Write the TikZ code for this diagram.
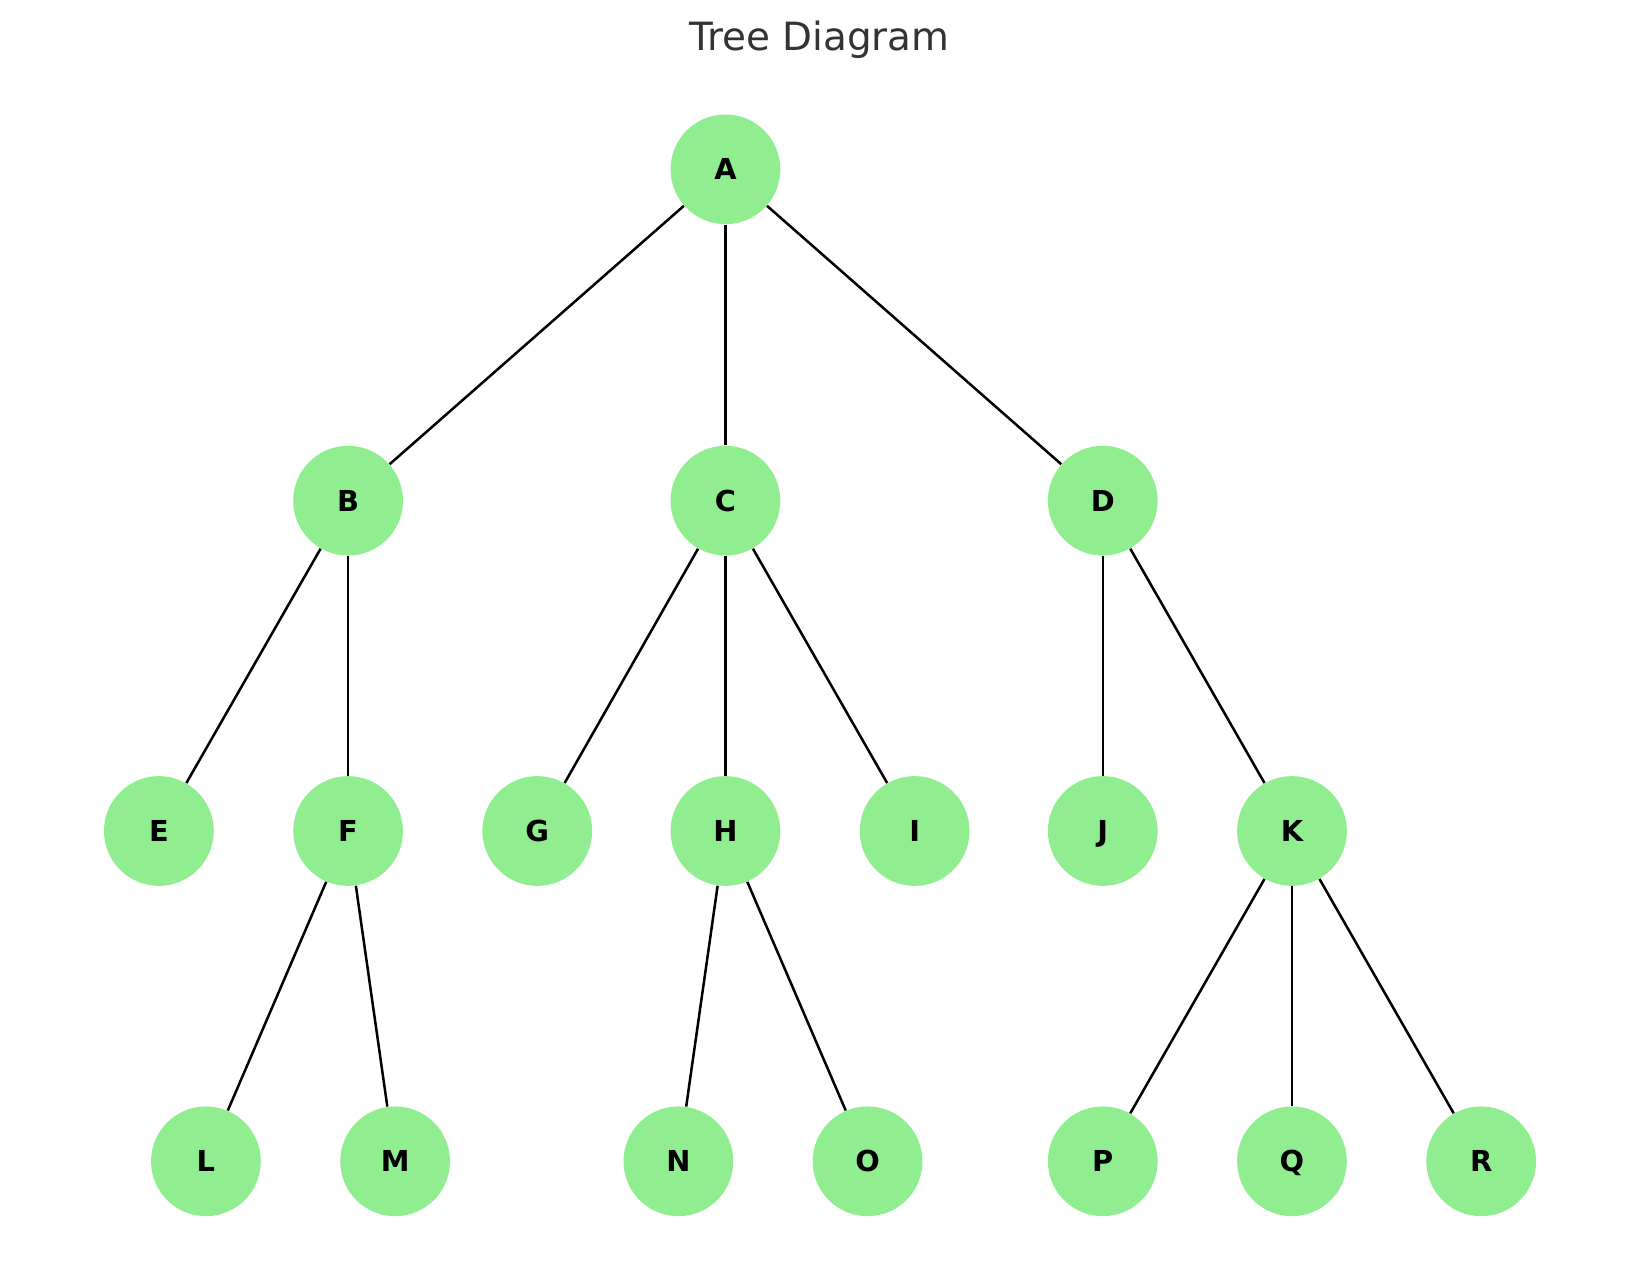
\documentclass[tikz,border=0pt]{standalone}
\usepackage{fontspec}
\setmainfont{DejaVu Sans}
\definecolor{nodegreen}{HTML}{90EE90}
\definecolor{titlegray}{HTML}{333333}
\begin{document}
\begin{tikzpicture}[x=0.5pt,y=-0.5pt,
  tnode/.style={circle,fill=nodegreen,minimum size=52.5pt,inner sep=0pt,
    font=\fontsize{13.8}{14}\selectfont\bfseries,text height=10pt,text depth=0pt},
  edge/.style={draw=black,line width=1.2pt}]
\useasboundingbox (0,0) rectangle (1568,1230);
\node[anchor=base,text=titlegray,font=\fontsize{18.6}{21}\selectfont] (title) at (784,48.5) {Tree Diagram};
\node[tnode] (A) at (694,162) {A};
\node[tnode] (B) at (333,479) {B};
\node[tnode] (C) at (694,479) {C};
\node[tnode] (D) at (1055,479) {D};
\node[tnode] (E) at (152,795) {E};
\node[tnode] (F) at (333,795) {F};
\node[tnode] (G) at (514,795) {G};
\node[tnode] (H) at (694,795) {H};
\node[tnode] (I) at (875,795) {I};
\node[tnode] (J) at (1055,795) {J};
\node[tnode] (K) at (1236,795) {K};
\node[tnode] (L) at (197,1111) {L};
\node[tnode] (M) at (378,1111) {M};
\node[tnode] (N) at (649,1111) {N};
\node[tnode] (O) at (830,1111) {O};
\node[tnode] (P) at (1055,1111) {P};
\node[tnode] (Q) at (1236,1111) {Q};
\node[tnode] (R) at (1417,1111) {R};
\foreach \a/\b in {A/B,A/C,A/D,B/E,B/F,C/G,C/H,C/I,D/J,D/K,F/L,F/M,H/N,H/O,K/P,K/Q,K/R}
  \path[edge] (\a) -- (\b);
\end{tikzpicture}
\end{document}
